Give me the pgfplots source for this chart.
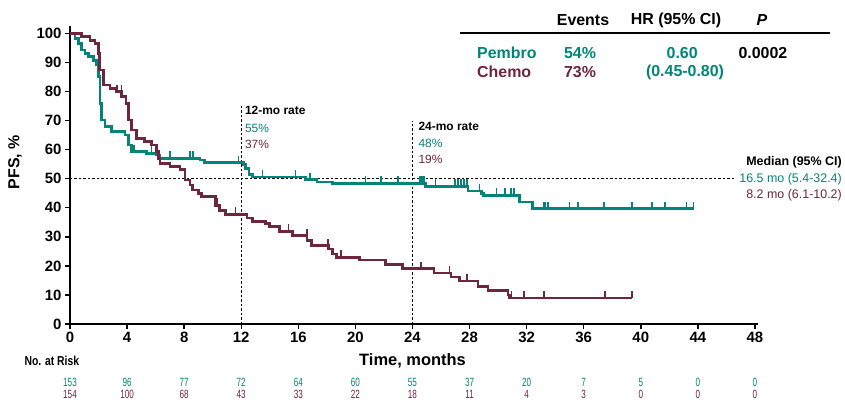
\documentclass[border=0pt]{standalone}
\usepackage{pgfplots}
\pgfplotsset{compat=1.18}
\usepackage{fontspec}
\setmainfont{Liberation Sans}
\usepackage{graphicx}
\definecolor{pem}{RGB}{0,133,120}
\definecolor{che}{RGB}{110,38,62}
\pgfdeclareplotmark{up}{\pgfpathmoveto{\pgfpointorigin}\pgfpathlineto{\pgfpoint{0pt}{\pgfplotmarksize}}\pgfusepathqstroke}
\newcommand{\nar}[1]{\scalebox{0.68}[1]{#1}}
\begin{document}
\begin{tikzpicture}
\begin{axis}[
x=14.27bp, y=2.906bp,
xmin=0, xmax=48.2, ymin=0, ymax=102.5,
axis x line=bottom, axis y line=left,
axis line style={-, line width=1.5bp},
xtick={0,4,...,48}, ytick={0,10,...,100},
tick align=outside, major tick length=5bp,
tick style={line width=1.4bp, black},
tick label style={font=\fontsize{15}{15}\selectfont\bfseries},
/pgf/number format/assume math mode=true,
clip=false,
]
% bounding box
\path (axis cs:-4.905,-26.5) rectangle (axis cs:54.31,111.5);
% reference lines
\draw[dash pattern=on 2.5bp off 2bp, line width=1.3bp] (axis cs:0,50) -- (axis cs:46.6,50);
\draw[dash pattern=on 2.5bp off 2bp, line width=1.3bp] (axis cs:12,0) -- (axis cs:12,75.7);
\draw[dash pattern=on 2.5bp off 2bp, line width=1.3bp] (axis cs:24,0) -- (axis cs:24,69.9);
% Pembro
\addplot[const plot mark left, pem, line width=2.7bp, mark=none] coordinates {
(0,100)(0.35,98.3)(0.58,96.6)(0.82,94.3)(1.05,93.2)(1.28,92.0)(1.63,90.8)(1.87,89.1)
(1.98,85.1)(2.1,75.9)(2.22,70.2)(2.45,67.9)(2.92,66.2)(3.85,65.0)(4.1,61.6)(4.32,59.3)
(5.37,58.7)(6.07,58.2)(6.3,57.0)(9.1,56.4)(9.45,55.5)(12.15,54.8)(12.3,53.5)(12.55,51.5)
(12.8,50.6)(16.5,49.7)(17.3,48.9)(18.4,48.4)(24.9,47.4)(27.9,45.8)(28.85,45.0)(29.0,44.3)
(31.5,42.0)(32.4,39.7)(43.7,39.7)};
\addplot[only marks, pem, mark=up, mark size=7bp, mark options={line width=1.6bp}] coordinates {
(4.4,59.3)(4.5,59.3)(5.7,58.7)(7.0,57.0)(8.4,57.0)(8.6,57.0)(11.8,55.5)(13.5,50.6)(15.8,50.6)
(16.8,49.7)(20.7,48.4)(21.8,48.4)(23.0,48.4)(24.5,48.4)(24.6,48.4)(24.7,48.4)(24.8,48.4)
(25.6,47.4)(27.0,47.4)(27.2,47.4)(27.4,47.4)(27.6,47.4)(27.8,47.4)(28.7,45.8)(29.9,44.3)
(30.5,44.3)(30.9,44.3)(31.1,44.3)(33.2,39.7)(33.3,39.7)(33.5,39.7)(35.0,39.7)(35.6,39.7)
(37.4,39.7)(39.4,39.7)(40.8,39.7)(41.7,39.7)(43.2,39.7)(43.7,39.7)};
% Chemo
\addplot[const plot mark left, che, line width=2.7bp, mark=none] coordinates {
(0,100)(0.82,98.9)(1.4,97.5)(1.75,96.6)(1.98,93.2)(2.05,87.4)(2.33,82.2)(2.8,81.1)
(3.27,79.9)(3.62,78.2)(3.92,75.9)(4.08,70.2)(4.3,66.8)(4.67,63.9)(5.2,62.7)(5.7,61.6)
(6.07,59.3)(6.2,57.0)(6.3,55.3)(7.0,54.1)(7.7,53.2)(8.05,49.6)(8.4,47.8)(8.6,46.1)
(9.0,45.0)(9.2,43.9)(10.2,40.8)(10.5,39.1)(10.9,37.7)(12.4,36.5)(12.8,35.4)(13.7,34.5)
(14.0,33.6)(14.7,31.9)(15.6,30.4)(16.6,28.7)(16.9,27.0)(18.1,25.8)(18.4,24.1)(18.7,22.9)
(20.3,22.0)(22.1,20.6)(23.3,19.1)(25.5,17.6)(26.7,16.2)(27.3,14.8)(28.6,13.0)(29.3,11.5)
(30.7,10.0)(30.8,9.0)(39.4,9.0)};
\addplot[only marks, che, mark=up, mark size=7bp, mark options={line width=1.6bp}] coordinates {
(3.3,79.9)(3.6,79.9)(6.1,59.3)(10.3,40.8)(11.6,37.7)(15.3,31.9)(16.6,30.4)(18.1,27.0)
(19.0,22.9)(24.6,19.1)(26.6,17.6)(27.8,14.8)(30.95,9.0)(31.8,9.0)(33.2,9.0)(37.5,9.0)(39.4,9.0)};
% labels
\node[rotate=90, font=\fontsize{16}{16}\selectfont\bfseries] at (axis cs:-3.85,55.7) {PFS, \%};
\node[font=\fontsize{16.5}{16.5}\selectfont\bfseries] at (axis cs:24,-12.7) {Time, months};
\node[anchor=east, inner sep=0pt, font=\fontsize{13}{13}\selectfont\bfseries] at (axis cs:0.65,-12.7) {\scalebox{0.8}[1]{No. at Risk}};
% rate annotations
\node[anchor=west, inner sep=0pt, font=\fontsize{12}{12}\selectfont\bfseries] at (axis cs:12.25,73.4) {12-mo rate};
\node[anchor=west, inner sep=0pt, font=\fontsize{12}{12}\selectfont, text=pem] at (axis cs:12.25,67.3) {55\%};
\node[anchor=west, inner sep=0pt, font=\fontsize{12}{12}\selectfont, text=che] at (axis cs:12.25,61.8) {37\%};
\node[anchor=west, inner sep=0pt, font=\fontsize{12}{12}\selectfont\bfseries] at (axis cs:24.41,67.9) {24-mo rate};
\node[anchor=west, inner sep=0pt, font=\fontsize{12}{12}\selectfont, text=pem] at (axis cs:24.41,62.2) {48\%};
\node[anchor=west, inner sep=0pt, font=\fontsize{12}{12}\selectfont, text=che] at (axis cs:24.41,56.7) {19\%};
% median
\node[anchor=east, inner sep=0pt, font=\fontsize{12.5}{12.5}\selectfont\bfseries] at (axis cs:54.1,55.7) {Median (95\% CI)};
\node[anchor=east, inner sep=0pt, font=\fontsize{12.5}{12.5}\selectfont, text=pem] at (axis cs:54.1,49.7) {16.5 mo (5.4-32.4)};
\node[anchor=east, inner sep=0pt, font=\fontsize{12.5}{12.5}\selectfont, text=che] at (axis cs:54.1,44.2) {8.2 mo (6.1-10.2)};
% table
\draw[line width=1.8bp] (axis cs:27.33,100.1) -- (axis cs:53.26,100.1);
\node[font=\fontsize{16}{16}\selectfont\bfseries] at (axis cs:35.95,104.6) {Events};
\node[font=\fontsize{16}{16}\selectfont\bfseries] at (axis cs:42.47,104.6) {HR (95\% CI)};
\node[font=\fontsize{16}{16}\selectfont\bfseries\itshape] at (axis cs:48.49,104.6) {P};
\node[anchor=west, inner sep=0pt, font=\fontsize{16}{16}\selectfont\bfseries, text=pem] at (axis cs:28.52,93.25) {Pembro};
\node[anchor=west, inner sep=0pt, font=\fontsize{16}{16}\selectfont\bfseries, text=che] at (axis cs:28.52,86.7) {Chemo};
\node[font=\fontsize{16}{16}\selectfont\bfseries, text=pem] at (axis cs:35.74,93.25) {54\%};
\node[font=\fontsize{16}{16}\selectfont\bfseries, text=che] at (axis cs:35.74,86.7) {73\%};
\node[font=\fontsize{16}{16}\selectfont\bfseries, text=pem] at (axis cs:42.9,93.25) {0.60};
\node[font=\fontsize{16}{16}\selectfont\bfseries, text=pem] at (axis cs:43.1,86.7) {(0.45-0.80)};
\node[font=\fontsize{16}{16}\selectfont\bfseries] at (axis cs:48.56,93.25) {0.0002};
% risk table
\addplot[draw=none, mark=none, nodes near coords, point meta=explicit symbolic,
  nodes near coords style={anchor=center, inner sep=0pt, font=\fontsize{12}{12}\selectfont, text=pem}]
  coordinates {(0,-19.96)[\nar{153}] (4,-19.96)[\nar{96}] (8,-19.96)[\nar{77}] (12,-19.96)[\nar{72}]
  (16,-19.96)[\nar{64}] (20,-19.96)[\nar{60}] (24,-19.96)[\nar{55}] (28,-19.96)[\nar{37}]
  (32,-19.96)[\nar{20}] (36,-19.96)[\nar{7}] (40,-19.96)[\nar{5}] (44,-19.96)[\nar{0}] (48,-19.96)[\nar{0}]};
\addplot[draw=none, mark=none, nodes near coords, point meta=explicit symbolic,
  nodes near coords style={anchor=center, inner sep=0pt, font=\fontsize{12}{12}\selectfont, text=che}]
  coordinates {(0,-24.1)[\nar{154}] (4,-24.1)[\nar{100}] (8,-24.1)[\nar{68}] (12,-24.1)[\nar{43}]
  (16,-24.1)[\nar{33}] (20,-24.1)[\nar{22}] (24,-24.1)[\nar{18}] (28,-24.1)[\nar{11}]
  (32,-24.1)[\nar{4}] (36,-24.1)[\nar{3}] (40,-24.1)[\nar{0}] (44,-24.1)[\nar{0}] (48,-24.1)[\nar{0}]};
\end{axis}
\end{tikzpicture}
\end{document}
